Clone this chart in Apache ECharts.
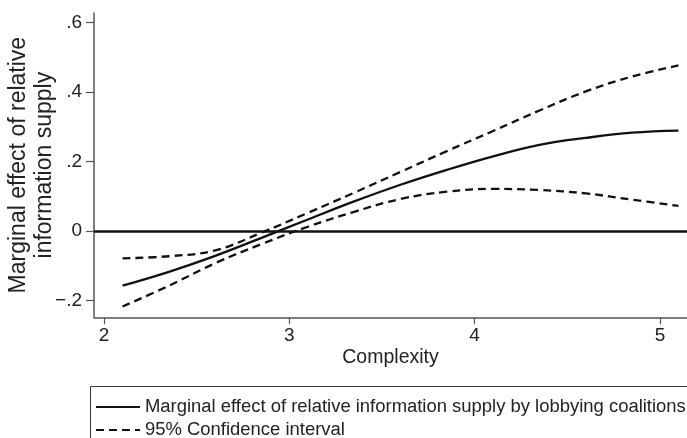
<!DOCTYPE html>
<html>
<head>
<meta charset="utf-8">
<script src="https://cdn.jsdelivr.net/npm/echarts@6/dist/echarts.min.js"></script>
<style>
  html, body { margin: 0; padding: 0; background: #fff; }
  #chart { width: 687px; height: 438px; }
</style>
</head>
<body>
<div id="chart"></div>
<script>
// Complexity values at which the marginal effect was evaluated
const complexity = [2.1, 2.35, 2.6, 2.85, 3.1, 3.35, 3.6, 3.85, 4.1, 4.35, 4.6, 4.85, 5.1];
// Marginal effect of relative information supply
const marginalEffect = [-0.158, -0.118, -0.072, -0.020, 0.033, 0.085, 0.133, 0.176, 0.215, 0.248, 0.268, 0.283, 0.289];
// 95% confidence bounds
const ciUpper = [-0.079, -0.073, -0.056, -0.005, 0.052, 0.110, 0.170, 0.230, 0.288, 0.347, 0.402, 0.445, 0.477];
const ciLower = [-0.218, -0.158, -0.093, -0.038, 0.012, 0.055, 0.092, 0.113, 0.121, 0.118, 0.108, 0.090, 0.072];

// Axis ticks and their printed labels
const xTicks = [2, 3, 4, 5];
const yTicks = [-0.2, 0, 0.2, 0.4, 0.6];
const yTickLabels = { '-0.2': '\u2212.2', '0': '0', '0.2': '.2', '0.4': '.4', '0.6': '.6' };

const mainName = 'Marginal effect of relative information supply by lobbying coalitions';
const ciName = '95% Confidence interval';

const pairs = (ys) => complexity.map((x, i) => [x, ys[i]]);

const font = "'Liberation Sans', Arial, Helvetica, sans-serif";
const ink = '#222';
const axisGray = '#555';
const lineInk = '#111';
const dash = [8, 5];

const chart = echarts.init(document.getElementById('chart'), null, { renderer: 'canvas' });

chart.setOption({
  animation: false,
  backgroundColor: '#fff',
  textStyle: { fontFamily: font, color: ink },
  grid: { left: 94, right: 0, top: 13, bottom: 438 - 317.3, containLabel: false, outerBoundsMode: 'none' },
  xAxis: {
    type: 'value',
    min: 1.946,
    max: 5.146,
    name: 'Complexity',
    nameLocation: 'middle',
    nameGap: 30,
    nameMoveOverlap: false,
    nameTextStyle: { fontSize: 19.5, color: ink, fontFamily: font },
    axisLine: { show: true, onZero: false, lineStyle: { color: axisGray, width: 1.5 } },
    axisTick: { show: true, length: 7, customValues: xTicks, lineStyle: { color: axisGray, width: 1.2 } },
    axisLabel: { customValues: xTicks, fontSize: 19, color: ink, margin: 9, fontFamily: font },
    splitLine: { show: false }
  },
  yAxis: {
    type: 'value',
    min: -0.249,
    max: 0.628,
    name: 'Marginal effect of relative\ninformation supply',
    nameLocation: 'middle',
    nameGap: 36,
    nameMoveOverlap: false,
    nameTextStyle: { fontSize: 23, color: ink, fontFamily: font, lineHeight: 26, align: 'center' },
    axisLine: { show: true, onZero: false, lineStyle: { color: axisGray, width: 1.5 } },
    axisTick: { show: true, length: 8, customValues: yTicks, lineStyle: { color: axisGray, width: 1.2 } },
    axisLabel: {
      customValues: yTicks,
      fontSize: 19,
      color: ink,
      margin: 12,
      fontFamily: font,
      formatter: (v) => yTickLabels[String(Math.round(v * 10) / 10)] ?? String(v)
    },
    splitLine: { show: false }
  },
  legend: {
    orient: 'vertical',
    left: 95,
    top: 398,
    height: 80,
    itemWidth: 44,
    itemHeight: 14,
    itemGap: 5,
    padding: 0,
    itemStyle: { opacity: 0 },
    textStyle: { fontSize: 18.45, color: ink, fontFamily: font, lineHeight: 18 },
    data: [mainName, ciName]
  },
  graphic: [
    {
      type: 'rect',
      shape: { x: 90.5, y: 386.5, width: 700, height: 100 },
      style: { fill: 'none', stroke: '#333', lineWidth: 1 },
      silent: true,
      z: 0
    }
  ],
  series: [
    {
      name: mainName,
      type: 'line',
      data: pairs(marginalEffect),
      smooth: 0.4,
      symbol: 'none',
      lineStyle: { color: lineInk, width: 2.3 },
      itemStyle: { color: lineInk },
      z: 3,
      markLine: {
        silent: true,
        symbol: 'none',
        label: { show: false },
        lineStyle: { color: lineInk, width: 2.5, type: 'solid' },
        data: [{ yAxis: 0 }]
      }
    },
    {
      name: ciName,
      type: 'line',
      data: pairs(ciUpper),
      smooth: 0.4,
      symbol: 'none',
      lineStyle: { color: lineInk, width: 2.3, type: dash },
      itemStyle: { color: lineInk },
      z: 3
    },
    {
      name: ciName,
      type: 'line',
      data: pairs(ciLower),
      smooth: 0.4,
      symbol: 'none',
      lineStyle: { color: lineInk, width: 2.3, type: dash },
      itemStyle: { color: lineInk },
      z: 3
    }
  ]
});
</script>
</body>
</html>
